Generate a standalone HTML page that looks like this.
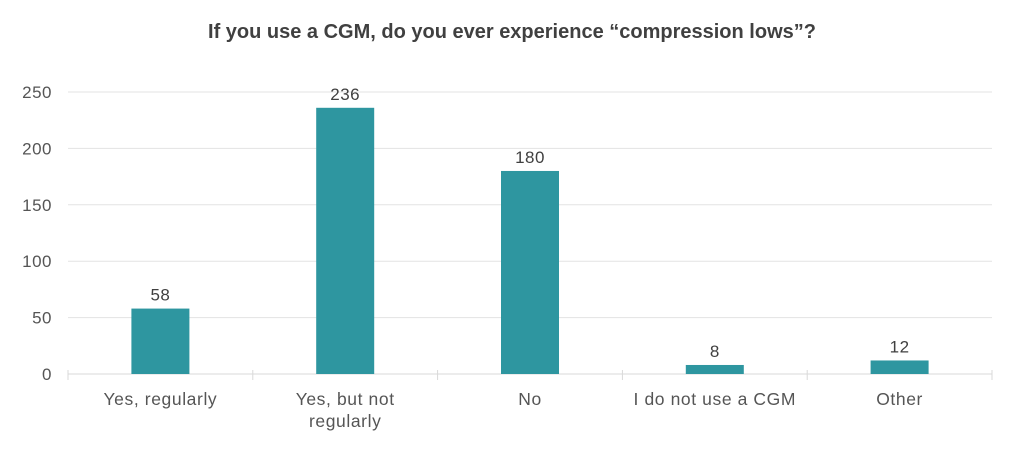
<!DOCTYPE html>
<html><head><meta charset="utf-8"><style>
html,body{margin:0;padding:0;background:#fff;}
svg{display:block;font-family:"Liberation Sans",sans-serif;}
</style></head><body>
<svg id="chart" width="1024" height="452" viewBox="0 0 1024 452">
<text x="512" y="38" text-anchor="middle" font-size="20" font-weight="bold" fill="#404040">If you use a CGM, do you ever experience “compression lows”?</text>
<g id="grid"></g><g id="bars"></g><g id="labels"></g>
</svg>
<script>
const categories = [["Yes, regularly"],["Yes, but not","regularly"],["No"],["I do not use a CGM"],["Other"]];
const values = [58, 236, 180, 8, 12];
const yTicks = [0, 50, 100, 150, 200, 250];
const NS = "http://www.w3.org/2000/svg";
const x0 = 68, x1 = 992, yBase = 374, yTop = 92, yMax = 250;
const band = (x1 - x0) / categories.length, barW = 58;
function y(v){ return yBase - v / yMax * (yBase - yTop); }
function xc(i){ return x0 + band * (i + 0.5); }
function mk(tag, attrs, parent){ const e = document.createElementNS(NS, tag); for (const k in attrs) e.setAttribute(k, attrs[k]); parent.appendChild(e); return e; }
const grid = document.getElementById('grid'), bars = document.getElementById('bars'), labels = document.getElementById('labels');
yTicks.forEach(t => {
  const l = mk('line', {x1: x0, x2: x1, y1: y(t), y2: y(t), stroke: t === 0 ? '#d9d9d9' : '#e3e3e3', 'stroke-width': 1}, grid);
  
  
  const tx = mk('text', {x: 52, y: y(t) + 6, 'text-anchor': 'end', 'font-size': 17, 'letter-spacing': 0.5, fill: '#555'}, labels);
  tx.textContent = t;
  
  
});
for (let i = 0; i <= categories.length; i++) {
  const l = mk('line', {x1: x0 + band * i, x2: x0 + band * i, y1: yBase - 4, y2: yBase + 6, stroke: '#d9d9d9', 'stroke-width': 1}, grid);
  
  
}
values.forEach((v, i) => {
  const r = mk('rect', {x: xc(i) - barW / 2, y: y(v), width: barW, height: yBase - y(v), fill: '#2e96a0'}, bars);
  
  
  const vt = mk('text', {x: xc(i), y: y(v) - 8, 'text-anchor': 'middle', 'font-size': 17, 'letter-spacing': 0.5, fill: '#404040'}, labels);
  vt.textContent = v;
  
  
  const ct = mk('text', {x: xc(i), y: 405, 'text-anchor': 'middle', 'font-size': 17.5, 'letter-spacing': 0.6, fill: '#555'}, labels);
  
  
  categories[i].forEach((line, j) => {
    const ts = mk('tspan', {x: xc(i), dy: j === 0 ? 0 : 22}, ct);
    ts.textContent = line;
  });
});
</script>
</body></html>
